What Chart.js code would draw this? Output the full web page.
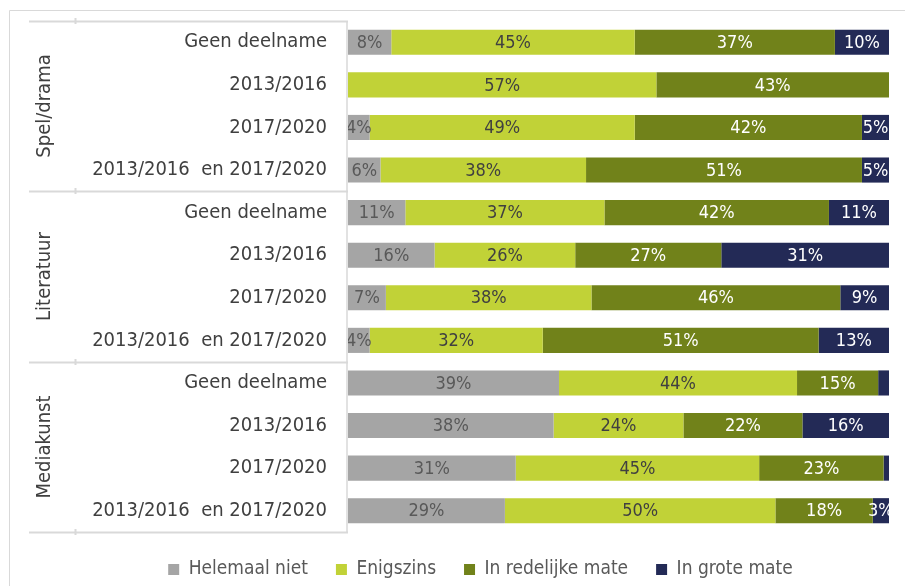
<!DOCTYPE html>
<html>
<head>
<meta charset="utf-8">
<script src="https://cdn.jsdelivr.net/npm/chart.js@4.4.1/dist/chart.umd.min.js"></script>
<style>
  html, body { margin: 0; padding: 0; background: #ffffff; }
  #wrap { position: relative; width: 905px; height: 586px; }
</style>
</head>
<body>
<div id="wrap"><canvas id="c" width="905" height="586"></canvas></div>
<script>
// ---- data ----
const groups = ["Spel/drama", "Literatuur", "Mediakunst"];
const rowLabels = [
  "Geen deelname", "2013/2016", "2017/2020", "2013/2016  en 2017/2020",
  "Geen deelname", "2013/2016", "2017/2020", "2013/2016  en 2017/2020",
  "Geen deelname", "2013/2016", "2017/2020", "2013/2016  en 2017/2020"
];
const seriesNames = ["Helemaal niet", "Enigszins", "In redelijke mate", "In grote mate"];
const helemaalNiet   = [8, 0, 4, 6,  10.6, 16, 7, 4,  39, 38, 31, 29];
const enigszins      = [45, 57, 49, 38,  36.8, 26, 38, 32,  44, 24, 45, 50];
const redelijkeMate  = [37, 43, 42, 51,  41.5, 27, 46, 51,  15, 22, 23, 18];
const groteMate      = [10, 0, 5, 5,  11.1, 31, 9, 13,  2, 16, 1, 3];

const colors = ["#A5A5A5", "#C1D237", "#71821A", "#232A56"];
const labelColors = ["#595959", "#404040", "#FFFFFF", "#FFFFFF"];
const FONT = "'DejaVu Sans Condensed', 'Liberation Sans Narrow', 'DejaVu Sans', sans-serif";
const NUMFONT = "'Liberation Sans Narrow', 'DejaVu Sans Condensed', sans-serif";

const seriesValues = [helemaalNiet, enigszins, redelijkeMate, groteMate];

// plugin: frame, group box, group labels, value labels
const framePlugin = {
  id: 'frame',
  beforeDraw(chart) {
    const ctx = chart.ctx;
    ctx.save();
    ctx.strokeStyle = '#D9D9D9';
    ctx.lineWidth = 1;
    ctx.beginPath();
    ctx.moveTo(9.5, 586); ctx.lineTo(9.5, 10.5); ctx.lineTo(905, 10.5);
    ctx.stroke();
    ctx.restore();
  },
  afterDraw(chart) {
    const ctx = chart.ctx;
    const y = chart.scales.y;
    const area = chart.chartArea;
    const per = rowLabels.length / groups.length;
    ctx.save();
    const bounds = [];
    for (let g = 0; g <= groups.length; g++) {
      bounds.push(Math.round(y.getPixelForValue(g * per - 0.5)));
    }
    ctx.strokeStyle = '#D9D9D9';
    ctx.lineWidth = 2;
    bounds.forEach(b => {
      ctx.beginPath();
      ctx.moveTo(29, b + 0.5); ctx.lineTo(area.left, b + 0.5);
      ctx.stroke();
      ctx.beginPath();
      ctx.moveTo(75.5, b - 3); ctx.lineTo(75.5, b + 3);
      ctx.stroke();
    });
    ctx.lineWidth = 1.5;
    ctx.beginPath();
    ctx.moveTo(area.left - 1, bounds[0]); ctx.lineTo(area.left - 1, bounds[bounds.length - 1]);
    ctx.stroke();
    ctx.fillStyle = '#404040';
    ctx.font = "20px " + FONT;
    ctx.textAlign = 'center';
    ctx.textBaseline = 'middle';
    groups.forEach((name, g) => {
      const cy = (bounds[g] + bounds[g + 1]) / 2;
      ctx.save();
      ctx.translate(45, cy);
      ctx.rotate(-Math.PI / 2);
      ctx.fillText(name, 0, 0);
      ctx.restore();
    });
    ctx.restore();
  },
  afterDatasetsDraw(chart) {
    const ctx = chart.ctx;
    const area = chart.chartArea;
    ctx.save();
    ctx.beginPath();
    ctx.rect(area.left, area.top, area.right - area.left, area.bottom - area.top);
    ctx.clip();
    ctx.font = "18px " + NUMFONT;
    ctx.textAlign = 'center';
    ctx.textBaseline = 'middle';
    chart.data.datasets.forEach((ds, di) => {
      const meta = chart.getDatasetMeta(di);
      meta.data.forEach((bar, i) => {
        const v = ds.data[i];
        if (v < 2.5) return;
        const cx = (bar.x + bar.base) / 2;
        ctx.fillStyle = labelColors[di];
        ctx.fillText(Math.round(v) + '%', cx, bar.y + 1);
      });
    });
    ctx.restore();
  }
};

new Chart(document.getElementById('c'), {
  type: 'bar',
  data: {
    labels: rowLabels,
    datasets: seriesNames.map((name, i) => ({
      label: name,
      data: seriesValues[i],
      backgroundColor: colors[i],
      borderWidth: 0,
      barPercentage: 0.59,
      categoryPercentage: 1.0
    }))
  },
  options: {
    indexAxis: 'y',
    responsive: false,
    animation: false,
    devicePixelRatio: 1,
    layout: { padding: { left: 72, right: 16, top: 21, bottom: -3 } },
    scales: {
      x: { stacked: true, min: 0, max: 100, display: false },
      y: {
        stacked: true,
        grid: { display: false },
        border: { display: false },
        ticks: {
          color: '#404040',
          padding: 13,
          autoSkip: false,
          font: { family: FONT, size: 20 }
        },
        afterFit(scale) {
          scale.width = 276;
          scale.paddingTop = 0;
          scale.paddingBottom = 0;
        }
      }
    },
    plugins: {
      legend: {
        position: 'bottom',
        labels: {
          boxWidth: 11,
          boxHeight: 11,
          padding: 28,
          color: '#595959',
          font: { family: FONT, size: 19 }
        }
      },
      tooltip: { enabled: false }
    }
  },
  plugins: [framePlugin]
});
</script>
</body>
</html>
